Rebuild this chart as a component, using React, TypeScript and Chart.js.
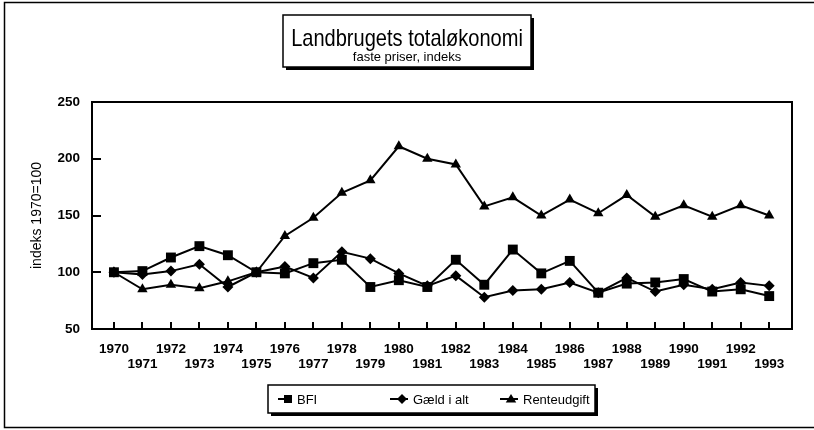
import React, { useEffect, useRef } from 'react';
import { Chart, registerables } from 'chart.js';
Chart.register(...registerables);

const YEARS = [1970, 1971, 1972, 1973, 1974, 1975, 1976, 1977, 1978, 1979, 1980, 1981, 1982, 1983, 1984, 1985, 1986, 1987, 1988, 1989, 1990, 1991, 1992, 1993];
const BFI = [100, 101, 113, 123, 115, 100, 99, 108, 111, 87, 93, 87, 111, 89, 120, 99, 110, 82, 90, 91, 94, 83, 85, 79];
const GAELD = [100, 98, 101, 107, 87, 100, 105, 95, 118, 112, 99, 88, 97, 78, 84, 85, 91, 82, 95, 83, 89, 85, 91, 88];
const RENTE = [100, 85, 89, 86, 92, 100, 132, 148, 170, 181, 211, 200, 195, 158, 166, 150, 164, 152, 168, 149, 159, 149, 159, 150];
const Y_TICKS = [50, 100, 150, 200, 250];
const SERIES_NAMES = ['BFI', 'Gæld i alt', 'Renteudgift'];
const TITLE = 'Landbrugets totaløkonomi';
const SUBTITLE = 'faste priser, indeks';
const Y_TITLE = 'indeks 1970=100';

const FONT = '"Liberation Sans", Arial, sans-serif';

function marker(ctx: CanvasRenderingContext2D, kind: string, x: number, y: number, r: number) {
  ctx.beginPath();
  if (kind === 'rect') {
    ctx.rect(x - r, y - r, 2 * r, 2 * r);
  } else if (kind === 'rectRot') {
    ctx.moveTo(x - r, y);
    ctx.lineTo(x, y - r);
    ctx.lineTo(x + r, y);
    ctx.lineTo(x, y + r);
    ctx.closePath();
  } else {
    ctx.moveTo(x, y - r);
    ctx.lineTo(x + r * 1.05, y + r * 0.7);
    ctx.lineTo(x - r * 1.05, y + r * 0.7);
    ctx.closePath();
  }
  ctx.fill();
}

function shadowBox(ctx: CanvasRenderingContext2D, x0: number, y0: number, x1: number, y1: number) {
  ctx.fillStyle = '#000';
  ctx.fillRect(x0 + 3, y0 + 3, x1 - x0, y1 - y0);
  ctx.fillStyle = '#fff';
  ctx.fillRect(x0, y0, x1 - x0, y1 - y0);
  ctx.strokeStyle = '#000';
  ctx.lineWidth = 1.5;
  ctx.strokeRect(x0, y0, x1 - x0, y1 - y0);
}

export default function App() {
  const ref = useRef<HTMLCanvasElement>(null);
  useEffect(() => {
    const deco = {
      id: 'deco',
      beforeDraw(chart: any) {
        const ctx = chart.ctx as CanvasRenderingContext2D;
        ctx.save();
        ctx.fillStyle = '#fff';
        ctx.fillRect(0, 0, chart.width, chart.height);
        ctx.restore();
      },
      afterDraw(chart: any) {
        const ctx = chart.ctx as CanvasRenderingContext2D;
        const { left, right, top, bottom } = chart.chartArea;
        const xs = chart.scales.x;
        const ys = chart.scales.y;
        ctx.save();
        // outer frame (left, top, bottom only)
        ctx.strokeStyle = '#000';
        ctx.lineWidth = 1.5;
        ctx.beginPath();
        ctx.moveTo(814, 2.5);
        ctx.lineTo(4.5, 2.5);
        ctx.lineTo(4.5, 427.5);
        ctx.lineTo(814, 427.5);
        ctx.stroke();
        // plot frame
        ctx.lineWidth = 2;
        ctx.strokeRect(left, top, right - left, bottom - top);
        // tick marks
        ctx.lineWidth = 2;
        ctx.beginPath();
        YEARS.forEach((yr) => {
          const px = Math.round(xs.getPixelForValue(yr));
          ctx.moveTo(px, bottom);
          ctx.lineTo(px, bottom - 7);
        });
        Y_TICKS.forEach((v) => {
          const py = Math.round(ys.getPixelForValue(v));
          ctx.moveTo(left, py);
          ctx.lineTo(left + 9, py);
        });
        ctx.stroke();
        // y title
        ctx.save();
        ctx.translate(37, (top + bottom) / 2);
        ctx.rotate(-Math.PI / 2);
        ctx.fillStyle = '#000';
        ctx.font = `14px ${FONT}`;
        ctx.textAlign = 'center';
        ctx.textBaseline = 'middle';
        ctx.fillText(Y_TITLE, 0, 0);
        ctx.restore();
        // title box
        shadowBox(ctx, 283, 15, 531, 67);
        ctx.fillStyle = '#000';
        ctx.textAlign = 'center';
        ctx.textBaseline = 'alphabetic';
        ctx.save();
        ctx.translate(407, 46);
        ctx.scale(0.835, 1);
        ctx.font = `24px ${FONT}`;
        ctx.fillText(TITLE, 0, 0);
        ctx.restore();
        ctx.font = `13px ${FONT}`;
        ctx.fillText(SUBTITLE, 407, 61);
        // legend box
        shadowBox(ctx, 268, 385, 595, 413);
        const ly = 399;
        const items = [
          { line: [278, 292], mx: 288, kind: 'rect', r: 4, tx: 297 },
          { line: [390, 408], mx: 402, kind: 'rectRot', r: 5, tx: 413 },
          { line: [500, 518], mx: 511, kind: 'triangle', r: 5, tx: 523 },
        ];
        ctx.font = `13px ${FONT}`;
        ctx.textAlign = 'left';
        ctx.textBaseline = 'middle';
        items.forEach((it, i) => {
          ctx.strokeStyle = '#000';
          ctx.lineWidth = 2;
          ctx.beginPath();
          ctx.moveTo(it.line[0], ly);
          ctx.lineTo(it.line[1], ly);
          ctx.stroke();
          ctx.fillStyle = '#000';
          marker(ctx, it.kind, it.mx, ly, it.r);
          ctx.fillText(SERIES_NAMES[i], it.tx, ly + 1);
        });
        ctx.restore();
      },
    };

    const mk = (vals: number[]) => YEARS.map((x, i) => ({ x, y: vals[i] }));
    const common = {
      borderColor: '#000',
      backgroundColor: '#000',
      borderWidth: 2,
      pointBorderWidth: 0,
      pointBorderColor: '#000',
      pointBackgroundColor: '#000',
      tension: 0,
      clip: false as const,
    };

    const chart = new Chart(ref.current as HTMLCanvasElement, {
      type: 'line',
      data: {
        datasets: [
          { ...common, label: SERIES_NAMES[0], data: mk(BFI), pointStyle: 'rect', pointRadius: 7 },
          { ...common, label: SERIES_NAMES[1], data: mk(GAELD), pointStyle: 'rectRot', pointRadius: 5.5 },
          { ...common, label: SERIES_NAMES[2], data: mk(RENTE), pointStyle: 'triangle', pointRadius: 6 },
        ],
      },
      options: {
        responsive: false,
        animation: false,
        devicePixelRatio: 1,
        layout: { padding: { top: 102, right: 22, bottom: 0, left: 0 } },
        plugins: { legend: { display: false }, title: { display: false }, tooltip: { enabled: false } },
        scales: {
          x: {
            type: 'linear',
            min: 1969.23,
            max: 1993.8,
            afterBuildTicks: (s: any) => {
              s.ticks = YEARS.map((v) => ({ value: v }));
            },
            afterFit: (s: any) => {
              s.height = 101;
            },
            grid: { display: false, drawTicks: false },
            border: { display: false },
            ticks: {
              autoSkip: false,
              maxRotation: 0,
              minRotation: 0,
              padding: 13,
              color: '#000',
              font: { family: FONT, size: 13.5, weight: 'bold', lineHeight: 1.11 },
              callback: (v: any) => (Number(v) % 2 === 0 ? [String(v), ''] : ['', String(v)]),
            },
          },
          y: {
            type: 'linear',
            min: 50,
            max: 250,
            afterBuildTicks: (s: any) => {
              s.ticks = Y_TICKS.map((v) => ({ value: v }));
            },
            afterFit: (s: any) => {
              s.width = 92;
            },
            grid: { display: false, drawTicks: false },
            border: { display: false },
            ticks: {
              padding: 12,
              color: '#000',
              font: { family: FONT, size: 13.5, weight: 'bold' },
            },
          },
        },
      },
      plugins: [deco],
    } as any);
    return () => chart.destroy();
  }, []);
  return (
    <div style={{ position: 'fixed', left: 0, top: 0, width: 814, height: 430 }}>
      <canvas ref={ref} width={814} height={430} style={{ display: 'block' }} />
    </div>
  );
}
